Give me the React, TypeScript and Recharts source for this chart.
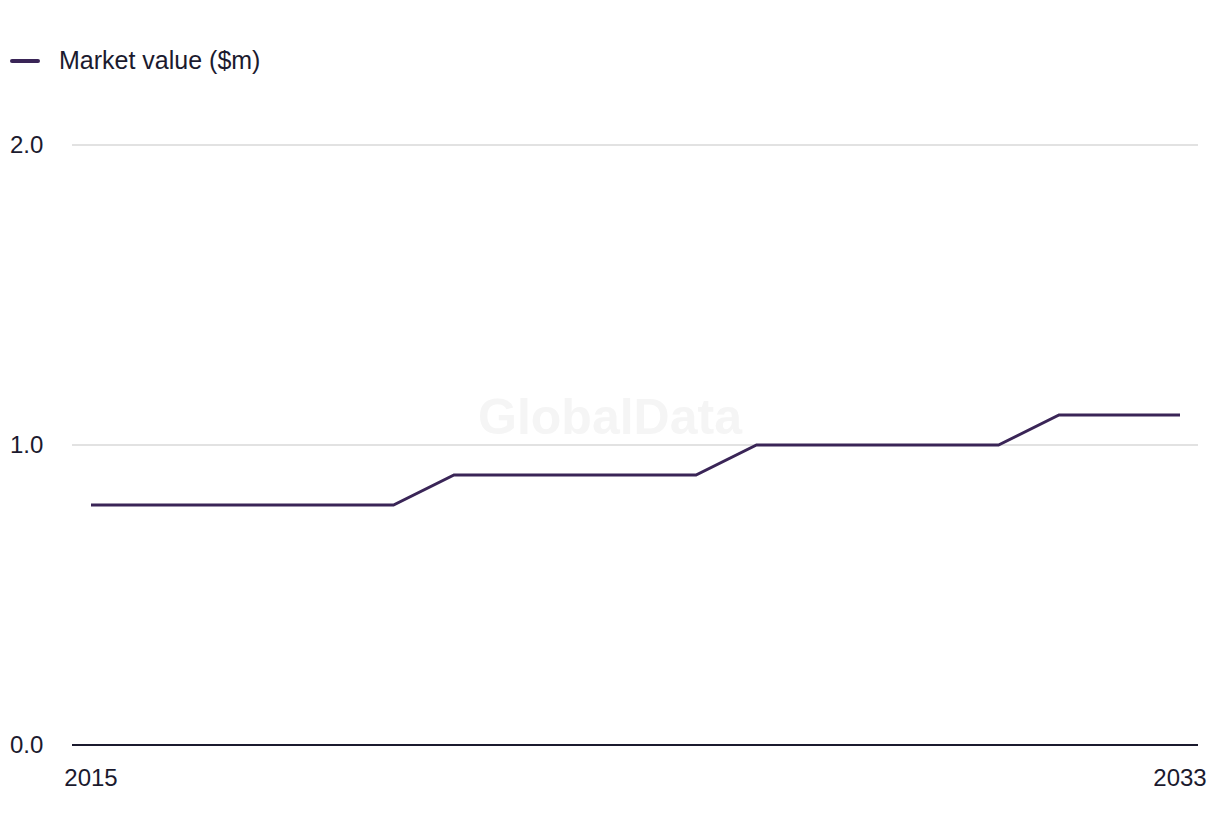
import { LineChart, Line, XAxis, YAxis, CartesianGrid } from "recharts";

const years = [2015, 2016, 2017, 2018, 2019, 2020, 2021, 2022, 2023, 2024, 2025, 2026, 2027, 2028, 2029, 2030, 2031, 2032, 2033];
const marketValue = [0.8, 0.8, 0.8, 0.8, 0.8, 0.8, 0.9, 0.9, 0.9, 0.9, 0.9, 1.0, 1.0, 1.0, 1.0, 1.0, 1.1, 1.1, 1.1];
const yTicks = [0, 1, 2];
const xTicks = [2015, 2033];

const data = years.map((year, i) => ({ year, value: marketValue[i] }));

const FONT = "'Liberation Sans', Arial, sans-serif";
const INK = "#1b1a2e";
const LINE = "#3a2557";

const YTick = ({ y, payload }: { y?: number; payload?: { value: number } }) => (
  <text x={10} y={y} dy={8} fontSize={24} fill={INK} fontFamily={FONT} textAnchor="start">
    {payload ? payload.value.toFixed(1) : ""}
  </text>
);

export default function App() {
  return (
    <div style={{ position: "absolute", left: 0, top: 0, width: 1220, height: 836, background: "#fff" }}>
      <div
        style={{
          position: "absolute",
          left: 0,
          width: 1220,
          top: 388,
          textAlign: "center",
          fontFamily: FONT,
          fontWeight: 700,
          fontSize: 50,
          color: "#f5f5f5",
        }}
      >
        GlobalData
      </div>
      {/* legend */}
      <div
        style={{
          position: "absolute",
          left: 10,
          top: 46,
          display: "flex",
          alignItems: "center",
          fontFamily: FONT,
          fontSize: 25,
          color: INK,
          zIndex: 1,
        }}
      >
        <span style={{ display: "inline-block", width: 30, height: 4, borderRadius: 2, background: LINE, marginRight: 19 }} />
        Market value ($m)
      </div>
      <LineChart width={1220} height={836} data={data} margin={{ top: 145, right: 22, bottom: 51, left: 10 }} style={{ position: "absolute", left: 0, top: 0 }}>
        <CartesianGrid vertical={false} stroke="#d8d8d8" strokeWidth={1.5} />
        <XAxis
          dataKey="year"
          type="number"
          domain={[2015, 2033]}
          ticks={xTicks}
          padding={{ left: 19, right: 18 }}
          height={40}
          axisLine={{ stroke: INK, strokeWidth: 2 }}
          tickLine={false}
          tick={{ fontSize: 24, fill: INK, fontFamily: FONT, dy: 16 }}
        />
        <YAxis
          domain={[0, 2]}
          ticks={yTicks}
          width={62}
          axisLine={false}
          tickLine={false}
          tick={<YTick />}
        />
        <Line type="linear" dataKey="value" stroke={LINE} strokeWidth={3} dot={false} isAnimationActive={false} />
      </LineChart>
    </div>
  );
}
